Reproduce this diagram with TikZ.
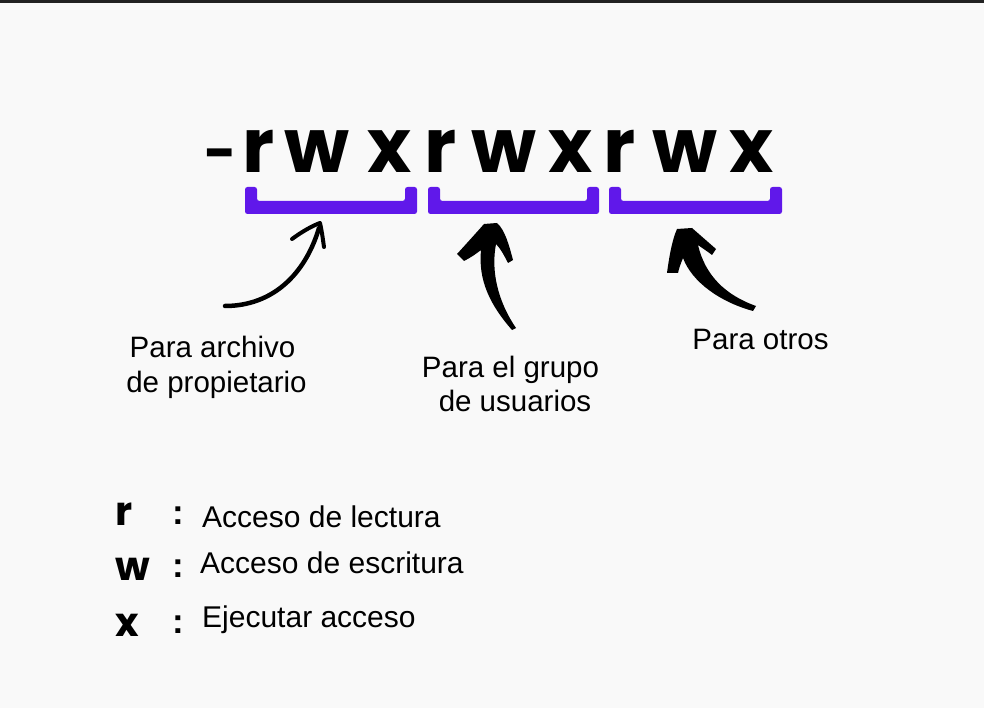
\documentclass[tikz,border=0pt]{standalone}
\usepackage{fontspec}
\setmainfont{Liberation Sans}
\newfontfamily\popb{Poppins Bold}
\definecolor{bgc}{RGB}{249,249,249}
\definecolor{topc}{RGB}{34,34,34}
\definecolor{purp}{RGB}{96,24,234}
\begin{document}
\begin{tikzpicture}[x=1pt,y=-1pt,
  bigl/.style={inner sep=0pt,anchor=base,font=\popb\fontsize{75}{75}\selectfont},
  hyph/.style={inner sep=0pt,anchor=base,font=\popb\fontsize{56}{56}\selectfont},
  legl/.style={inner sep=0pt,anchor=base,font=\popb\fontsize{40}{40}\selectfont},
  lbl/.style={inner sep=0pt,anchor=base,font=\fontsize{29.5}{34}\selectfont},
  legt/.style={inner sep=0pt,anchor=base west,font=\fontsize{30}{34}\selectfont},
  colon/.style={inner sep=0pt,anchor=base,font=\bfseries\fontsize{35}{35}\selectfont},
  brk/.style={fill=purp,rounded corners=2.5pt},
  brush/.style={fill=black}]
\useasboundingbox (0,0) rectangle (984,708);
\fill[bgc] (0,0) rectangle (984,708);
\fill[topc] (0,0) rectangle (984,3);
% permission string
\node[hyph] (c0) at (221,173) {-};
\node[bigl] (r1) at (259,173) {r};
\node[bigl] (w1) at (317,173) {w};
\node[bigl] (x1) at (389.5,173) {x};
\node[bigl] (r2) at (441,173) {r};
\node[bigl] (w2) at (504,173) {w};
\node[bigl] (x2) at (570.5,173) {x};
\node[bigl] (r3) at (620,173) {r};
\node[bigl] (w3) at (685,173) {w};
\node[bigl] (x3) at (751.5,173) {x};
% brackets
\fill[brk] (245,187) -- (245,214) -- (417,214) -- (417,187) -- (405,187) -- (405,201) -- (257,201) -- (257,187) -- cycle;
\fill[brk] (428,187) -- (428,214) -- (599,214) -- (599,187) -- (587,187) -- (587,201) -- (440,201) -- (440,187) -- cycle;
\fill[brk] (609,187) -- (609,214) -- (782,214) -- (782,187) -- (770,187) -- (770,201) -- (621,201) -- (621,187) -- cycle;
% arrow 1
\draw[line width=4.5pt,line cap=round] (225,306) .. controls (272,306) and (305,275) .. (319,228);
\draw[line width=4pt,line cap=round,line join=round] (292,239) .. controls (303,231) and (312,226) .. (320,223) .. controls (322,232) and (323,240) .. (324,247);
% arrow 2
\fill[brush] (484,224) -- (497,223) .. controls (505,230) and (509,245) .. (513,260) -- (508,263)
  .. controls (504,255) and (500,248) .. (496,244)
  .. controls (491,270) and (497,300) .. (516,328) -- (512,330)
  .. controls (490,305) and (478,280) .. (481,250)
  .. controls (476,254) and (470,258) .. (464,261) -- (457,254)
  .. controls (467,243) and (477,232) .. (484,224) -- cycle;
% arrow 3
\fill[brush] (677,229) -- (692,228) .. controls (700,235) and (708,242) .. (716,249) -- (712,255)
  .. controls (707,251) and (702,248) .. (698,245)
  .. controls (705,275) and (725,295) .. (756,306) -- (753,311)
  .. controls (720,302) and (692,282) .. (683,258)
  .. controls (681,263) and (679,268) .. (678,273) -- (667,273)
  .. controls (669,258) and (672,240) .. (677,229) -- cycle;
% labels
\node[lbl] (la1) at (212.5,357) {Para archivo};
\node[lbl] (la2) at (216.5,392) {de propietario};
\node[lbl] (lb1) at (510.5,377) {Para el grupo};
\node[lbl] (lb2) at (515,411) {de usuarios};
\node[lbl] (lc1) at (760.5,349) {Para otros};
% legend
\node[legl] (kr) at (124.5,525) {r};
\node[legl] (kw) at (133,580) {w};
\node[legl] (kx) at (127,636) {x};
\node[colon] (cr) at (178,524) {:};
\node[colon] (cw) at (178,577) {:};
\node[colon] (cx) at (178,633) {:};
\node[legt] (tr) at (202,527) {Acceso de lectura};
\node[legt] (tw) at (200,573) {Acceso de escritura};
\node[legt] (tx) at (202,627) {Ejecutar acceso};
\end{tikzpicture}
\end{document}
